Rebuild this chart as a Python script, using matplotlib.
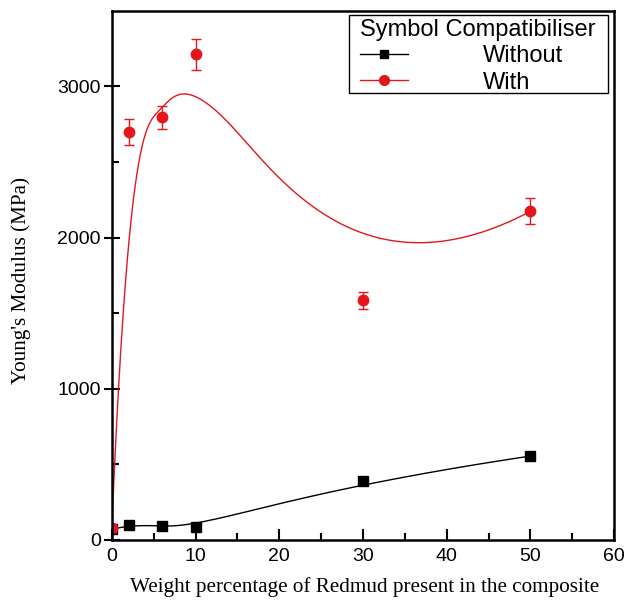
import numpy as np
import matplotlib
matplotlib.use('Agg')
import matplotlib.pyplot as plt
from matplotlib.lines import Line2D
from matplotlib.patches import Rectangle

# data
wt = [0, 2, 6, 10, 30, 50]
modWithout = [70, 99, 93, 86, 390, 555]
modWith = [80, 2697, 2796, 3212, 1586, 2174]
errWith = [0, 85, 75, 105, 55, 85]

xTicks = [0, 10, 20, 30, 40, 50, 60]
yTicks = [0, 1000, 2000, 3000]

redCol = '#e3161d'


def bspline(px, py, k=3, n=400):
    # clamped uniform B-spline with the data points as control points
    px = np.asarray(px, float)
    py = np.asarray(py, float)
    m = len(px)
    inner = np.linspace(0, 1, m - k + 1)[1:-1]
    knots = np.concatenate([np.zeros(k + 1), inner, np.ones(k + 1)])
    t = np.linspace(0, 1, n)
    t[-1] = 1 - 1e-12
    B = np.zeros((n, len(knots) - 1))
    for i in range(len(knots) - 1):
        B[:, i] = (t >= knots[i]) & (t < knots[i + 1])
    for d in range(1, k + 1):
        Bn = np.zeros((n, len(knots) - 1 - d))
        for i in range(len(knots) - 1 - d):
            a = knots[i + d] - knots[i]
            b = knots[i + d + 1] - knots[i + 1]
            left = (t - knots[i]) / a * B[:, i] if a > 0 else 0
            right = (knots[i + d + 1] - t) / b * B[:, i + 1] if b > 0 else 0
            Bn[:, i] = left + right
        B = Bn
    return B @ px, B @ py


fig = plt.figure(figsize=(6.28, 6.03), dpi=100)
ax = fig.add_axes([0.178, 0.1045, 0.8, 0.8775])

sx, sy = bspline(wt, modWithout)
ax.plot(sx, sy, c='k', lw=1)
ax.plot(wt, modWithout, 's', c='k', ms=6.5)

rx, ry = bspline(wt, modWith)
ax.plot(rx, ry, c=redCol, lw=1)
ax.errorbar(wt[1:], modWith[1:], yerr=errWith[1:], fmt='none', ecolor=redCol,
            elinewidth=1, capsize=3.5, capthick=1)
ax.plot(wt, modWith, 'o', c=redCol, ms=7.5)

ax.set_xlim(0, 60)
ax.set_ylim(0, 3500)
ax.set_xticks(xTicks)
ax.set_yticks(yTicks)
ax.set_xticks(np.arange(5, 60, 10), minor=True)
ax.set_yticks(np.arange(500, 3500, 1000), minor=True)

tickFont = 'Liberation Sans'
for lab in ax.get_xticklabels() + ax.get_yticklabels():
    lab.set_fontfamily(tickFont)
    lab.set_fontsize(14)
ax.tick_params(axis='x', which='major', direction='in', length=8, width=1.5, pad=6)
ax.tick_params(axis='x', which='minor', direction='in', length=5, width=1.5)
ax.tick_params(axis='y', which='major', direction='inout', length=12, width=1.5, pad=2)
ax.tick_params(axis='y', which='minor', direction='in', length=5, width=1.5)
for sp in ax.spines.values():
    sp.set_linewidth(1.8)

ax.set_xlabel('Weight percentage of Redmud present in the composite',
              family='Liberation Serif', fontsize=15.2)
ax.set_ylabel("Young's Modulus (MPa)", family='Liberation Serif', fontsize=15.2)
ax.xaxis.set_label_coords(0.503, -0.0695)
ax.yaxis.set_label_coords(-0.16, 0.49)

# legend: frame drawn separately so the padding matches the original box
ax.add_patch(Rectangle((0.472, 0.845), 0.516, 0.1474, transform=ax.transAxes,
                       fill=True, fc='w', ec='k', lw=1, zorder=4))
handles = [Line2D([], [], c='k', lw=1, marker='s', ms=6),
           Line2D([], [], c=redCol, lw=1, marker='o', ms=7)]
leg = ax.legend(handles, ['Without', 'With'], title='Symbol Compatibiliser',
                loc='upper left', bbox_to_anchor=(0.494, 0.985), alignment='left',
                frameon=False, prop={'family': tickFont, 'size': 17},
                title_fontproperties={'family': tickFont, 'size': 17},
                handlelength=2.05, handletextpad=3.15, borderaxespad=0,
                labelspacing=0.19, borderpad=0)
leg.set_zorder(5)

fig.savefig('out.png', dpi=100)
